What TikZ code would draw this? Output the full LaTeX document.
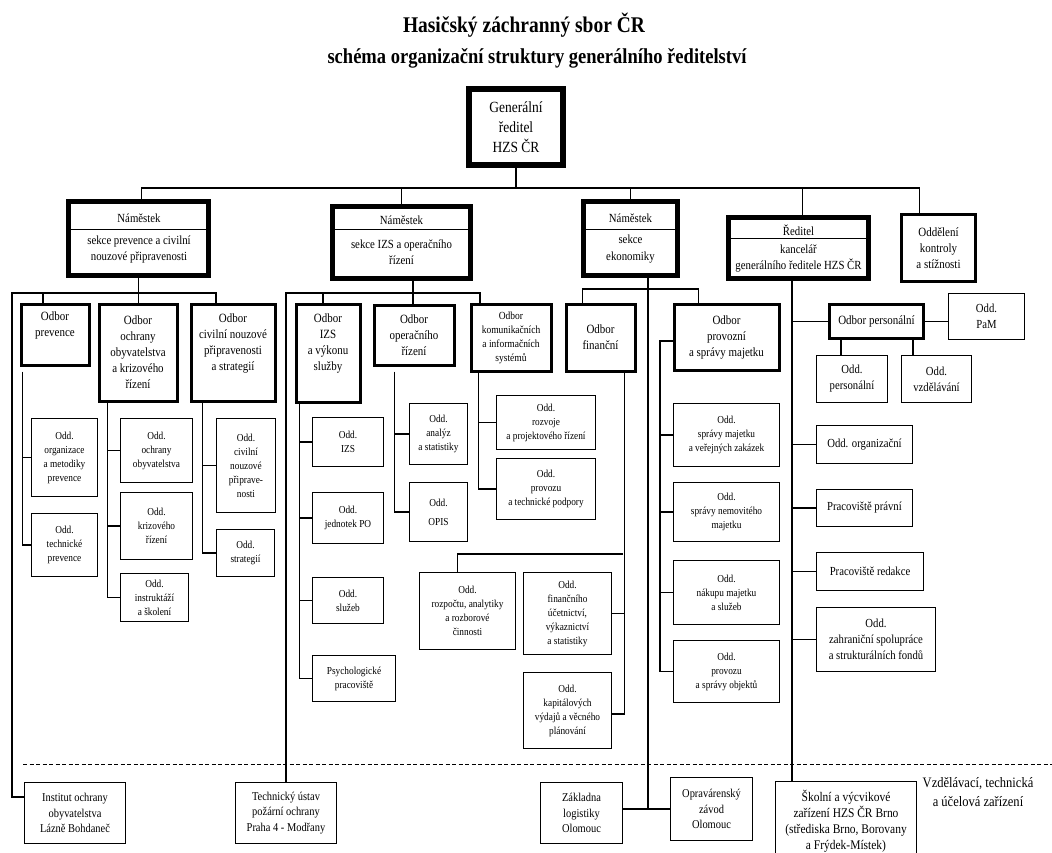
\documentclass[tikz,border=0pt]{standalone}
\usepackage{fontspec}
\setmainfont{Liberation Serif}[FakeStretch=0.87]

\begin{document}
\begin{tikzpicture}[x=1pt,y=-1pt,
  orgbox/.style={draw, fill=white, line width=1.3pt, align=center, inner sep=1pt},
  genbox/.style={orgbox, line width=6.5pt, font=\fontsize{15.5}{20}\selectfont},
  nambox/.style={orgbox, line width=5pt},
  namtext/.style={align=center, inner sep=0pt, font=\fontsize{12.4}{16.5}\selectfont},
  odbbox/.style={orgbox, line width=3pt, font=\fontsize{12.6}{16}\selectfont},
  oddbox/.style={orgbox, font=\fontsize{10.7}{14}\selectfont},
  oddrbox/.style={orgbox, font=\fontsize{12.3}{16}\selectfont},
  zarbox/.style={orgbox, font=\fontsize{12}{15.5}\selectfont},
  conn/.style={line width=1.2pt}]
\useasboundingbox (0,0) rectangle (1052,853);

% titles
\node[font=\bfseries\fontsize{22.4}{24}\selectfont] (title) at (524,25) {Hasičský záchranný sbor ČR};
\node[font=\bfseries\fontsize{21.3}{24}\selectfont] (subtitle) at (537,58) {schéma organizační struktury generálního ředitelství};

% top level
\node[genbox, minimum width=94, minimum height=76] (gr) at (516,127) {Generální\\ředitel\\HZS ČR};

\node[nambox, minimum width=140, minimum height=74] (npr) at (138.5,238.5) {};
\draw[line width=0.8pt] ([yshift=-30.5pt]npr.north west) -- ([yshift=-30.5pt]npr.north east);
\node[namtext] (npr-a) at (139,218) {Náměstek};
\node[namtext] (npr-b) at (139,249.5) {sekce prevence a civilní\\nouzové připravenosti};

\node[nambox, minimum width=138, minimum height=72] (niz) at (401.5,242.5) {};
\draw[line width=0.8pt] ([yshift=-25.5pt]niz.north west) -- ([yshift=-25.5pt]niz.north east);
\node[namtext] (niz-a) at (401.5,220) {Náměstek};
\node[namtext] (niz-b) at (401.5,252) {sekce IZS a operačního\\řízení};

\node[nambox, minimum width=94, minimum height=74] (neko) at (630.5,238.5) {};
\draw[line width=0.8pt] ([yshift=-30.5pt]neko.north west) -- ([yshift=-30.5pt]neko.north east);
\node[namtext] (neko-a) at (630.5,218) {Náměstek};
\node[namtext] (neko-b) at (630.5,249) {sekce\\ekonomiky};

\node[nambox, minimum width=140, minimum height=61] (red) at (798.5,248) {};
\draw[line width=0.8pt] ([yshift=-23.5pt]red.north west) -- ([yshift=-23.5pt]red.north east);
\node[namtext] (red-a) at (798.5,230) {Ředitel};
\node[namtext] (red-b) at (798.5,258.5) {kancelář\\generálního ředitele HZS ČR};

\node[odbbox, minimum width=74, minimum height=67] (ktrl) at (938.5,248) {Oddělení\\kontroly\\a stížnosti};

% odbory
\node[odbbox, minimum width=68, minimum height=61] (odbprev) at (55,334.5) {Odbor\\prevence\\\strut};
\node[odbbox, minimum width=78, minimum height=97] (ochr) at (138,352.5) {Odbor\\ochrany\\obyvatelstva\\a krizového\\řízení};
\node[odbbox, minimum width=84, minimum height=97] (odbciv) at (233,352.5) {Odbor\\civilní nouzové\\připravenosti\\a strategií\\\strut};
\node[odbbox, minimum width=64, minimum height=98] (odbizs) at (328,353) {Odbor\\IZS\\a výkonu\\služby\\\strut};
\node[odbbox, minimum width=80, minimum height=60] (odbop) at (414,335) {Odbor\\operačního\\řízení};
\node[odbbox, minimum width=80, minimum height=67, font=\fontsize{10.9}{14}\selectfont] (odbkom) at (511,337.5) {Odbor\\komunikačních\\a informačních\\systémů};
\node[odbbox, minimum width=69, minimum height=67] (fin) at (600.5,337.5) {Odbor\\finanční};
\node[odbbox, minimum width=105, minimum height=66] (prov) at (726.5,337) {Odbor\\provozní\\a správy majetku};
\node[odbbox, minimum width=94, minimum height=34] (odbpers) at (876.5,321.5) {Odbor personální};

% oddeleni
\node[oddbox, minimum width=66, minimum height=78] (orgprev) at (64.5,457.5) {Odd.\\organizace\\a metodiky\\prevence};
\node[oddbox, minimum width=66, minimum height=63] (techprev) at (64.5,545) {Odd.\\technické\\prevence};
\node[oddbox, minimum width=72, minimum height=64] (ochrobyv) at (156.5,450.5) {Odd.\\ochrany\\obyvatelstva};
\node[oddbox, minimum width=72, minimum height=67] (kriz) at (156.5,526) {Odd.\\krizového\\řízení};
\node[oddbox, minimum width=68, minimum height=48] (instr) at (154.5,597.5) {Odd.\\instruktáží\\a školení};
\node[oddbox, minimum width=59, minimum height=94] (civnp) at (246,465.5) {Odd.\\civilní\\nouzové\\připrave-\\nosti};
\node[oddbox, minimum width=58, minimum height=47] (strat) at (245.5,553) {Odd.\\strategií};
\node[oddbox, minimum width=71, minimum height=49] (izs) at (348,442) {Odd.\\IZS};
\node[oddbox, minimum width=71, minimum height=51] (jedn) at (348,518) {Odd.\\jednotek PO};
\node[oddbox, minimum width=71, minimum height=46] (sluz) at (348,600.5) {Odd.\\služeb};
\node[oddbox, minimum width=83, minimum height=46] (psych) at (354,678.5) {Psychologické\\pracoviště};
\node[oddbox, minimum width=58, minimum height=61] (analyz) at (438.5,434) {Odd.\\analýz\\a statistiky};
\node[oddbox, minimum width=58, minimum height=59] (opis) at (438.5,512) {Odd.\\[5pt]OPIS};
\node[oddbox, minimum width=99, minimum height=54] (rozvoje) at (546,422.5) {Odd.\\rozvoje\\a projektového řízení};
\node[oddbox, minimum width=99, minimum height=61] (provtech) at (546,489) {Odd.\\provozu\\a technické podpory};
\node[oddbox, minimum width=96, minimum height=77] (rozp) at (467.5,611) {Odd.\\rozpočtu, analytiky\\a rozborové\\činnosti};
\node[oddbox, minimum width=88, minimum height=82] (finucet) at (567.5,613.5) {Odd.\\finančního\\účetnictví,\\výkaznictví\\a statistiky};
\node[oddbox, minimum width=88, minimum height=76] (kapit) at (567.5,710.5) {Odd.\\kapitálových\\výdajů a věcného\\plánování};
\node[oddbox, minimum width=106, minimum height=63] (sprmaj) at (726.5,435) {Odd.\\správy majetku\\a veřejných zakázek};
\node[oddbox, minimum width=106, minimum height=59] (nemov) at (726.5,512) {Odd.\\správy nemovitého\\majetku};
\node[oddbox, minimum width=106, minimum height=64] (nakup) at (726.5,592.5) {Odd.\\nákupu majetku\\a služeb};
\node[oddbox, minimum width=106, minimum height=62] (objekt) at (726.5,671.5) {Odd.\\provozu\\a správy objektů};

\node[oddrbox, minimum width=76, minimum height=46] (pam) at (986.5,316.5) {Odd.\\PaM};
\node[oddrbox, minimum width=71, minimum height=47] (personalni) at (852,379) {Odd.\\personální};
\node[oddrbox, minimum width=70, minimum height=47] (vzdel) at (936.5,379) {Odd.\\vzdělávání};
\node[oddrbox, minimum width=96, minimum height=38] (organiz) at (864.5,444.5) {Odd. organizační};
\node[oddrbox, minimum width=96, minimum height=37] (pravni) at (864.5,508) {Pracoviště právní};
\node[oddrbox, minimum width=107, minimum height=38] (redakce) at (870,571.5) {Pracoviště redakce};
\node[oddrbox, minimum width=119, minimum height=64] (zahran) at (876,639.5) {Odd.\\zahraniční spolupráce\\a strukturálních fondů};

% zarizeni
\node[zarbox, minimum width=101, minimum height=61] (institut) at (75,813) {Institut ochrany\\obyvatelstva\\Lázně Bohdaneč};
\node[zarbox, minimum width=101, minimum height=61] (technicky) at (286,813) {Technický ústav\\požární ochrany\\Praha 4 - Modřany};
\node[zarbox, minimum width=82, minimum height=61] (zakl) at (581.5,813) {Základna\\logistiky\\Olomouc};
\node[zarbox, minimum width=82, minimum height=63] (opr) at (711.5,809) {Opravárenský\\závod\\Olomouc};
\node[zarbox, minimum width=141, minimum height=79, font=\fontsize{13.2}{16}\selectfont] (skolni) at (846,821) {Školní a výcvikové\\zařízení HZS ČR Brno\\(střediska Brno, Borovany\\a Frýdek-Místek)};
\node[align=center, font=\fontsize{14.4}{19}\selectfont] (zarlabel) at (978,792.5) {Vzdělávací, technická\\a účelová zařízení};

\coordinate (dashL) at (23,764);
\coordinate (dashR) at (1052,764);
\draw[line width=1pt, dash pattern=on 4pt off 2.5pt] (dashL) -- (dashR);

% connectors top
\coordinate (topbus) at (516,188);
\draw[conn] (gr.south) -- (topbus);
\draw[conn] ([xshift=3pt]npr.north) |- (topbus) -| ([xshift=-19pt]ktrl.north);
\draw[conn] (niz.north) -- (niz.north |- topbus);
\draw[conn] (neko.north) -- (neko.north |- topbus);
\draw[conn] ([xshift=4pt]red.north) -- ([xshift=4pt]red.north |- topbus);

% prevence
\coordinate (prevL) at (12,293);
\draw[conn] (npr.south) -- (npr.south |- ochr.north);
\draw[conn] ([yshift=16pt]institut.west) -| (prevL) -| ([xshift=-17pt]odbciv.north);
\draw[conn] ([xshift=-12pt]odbprev.north) -- ([xshift=-12pt]odbprev.north |- prevL);
\coordinate (prevV) at ([xshift=3pt,yshift=-5pt]odbprev.south west);
\draw[conn] (prevV) |- (techprev.west);
\draw[conn] (prevV |- orgprev.west) -- (orgprev.west);
\coordinate (ochrV) at ([xshift=10pt]ochr.south west);
\draw[conn] (ochrV) |- (instr.west);
\foreach \n in {ochrobyv,kriz}
\draw[conn] (ochrV |- \n.west) -- (\n.west);
\coordinate (civV) at ([xshift=13pt]odbciv.south west);
\draw[conn] (civV) |- (strat.west);
\draw[conn] (civV |- civnp.west) -- (civnp.west);

% IZS
\coordinate (izsbus) at (413,293);
\draw[conn] ([xshift=11.5pt]niz.south) -- ([xshift=11.5pt]niz.south |- odbop.north);
\draw[conn] (technicky.north) |- (izsbus) -| ([xshift=-31pt]odbkom.north);
\draw[conn] ([xshift=-5pt]odbizs.north) -- ([xshift=-5pt]odbizs.north |- izsbus);
\coordinate (izsV) at ([xshift=5pt]odbizs.south west);
\draw[conn] (izsV) |- (psych.west);
\foreach \n in {izs,jedn,sluz}
\draw[conn] (izsV |- \n.west) -- (\n.west);
\coordinate (opV) at ([xshift=22pt,yshift=-5pt]odbop.south west);
\draw[conn] (opV) |- (opis.west);
\draw[conn] (opV |- analyz.west) -- (analyz.west);
\coordinate (komV) at ([xshift=9pt]odbkom.south west);
\draw[conn] (komV) |- (provtech.west);
\draw[conn] (komV |- rozvoje.west) -- (rozvoje.west);

% ekonomika
\coordinate (ekobus) at (648,289);
\draw[conn] ([xshift=-18pt]fin.north) |- (ekobus) -| ([xshift=-28pt]prov.north);
\draw[conn] ([xshift=17.5pt]neko.south) -- ([xshift=17.5pt]neko.south |- opr.west);
\draw[conn] (zakl.east |- opr.west) -- (opr.west);
\coordinate (finV) at ([xshift=-12pt]fin.south east);
\coordinate (rozpJ) at (623,554);
\draw[conn] (finV) |- ([yshift=-3.5pt]kapit.east);
\draw[conn] (finucet.east) -- (finucet.east -| finV);
\draw[conn] ([xshift=-10pt]rozp.north) |- (rozpJ);
\coordinate (provV) at (660,341);
\draw[conn] (prov.west |- provV) -- (provV) |- (objekt.west);
\foreach \n in {sprmaj,nemov,nakup}
\draw[conn] (provV |- \n.west) -- (\n.west);

% reditel
\coordinate (redV) at ([xshift=-6.5pt]red.south);
\draw[conn] (redV) -- (redV |- skolni.north);
\foreach \n in {odbpers,organiz,pravni,redakce,zahran}
\draw[conn] (redV |- \n.west) -- (\n.west);
\draw[conn] (odbpers.east) -- (odbpers.east -| pam.west);
\draw[conn] ([xshift=-11pt]personalni.north) -- ([xshift=-11pt]personalni.north |- odbpers.south);
\draw[conn] ([xshift=-23.5pt]vzdel.north) -- ([xshift=-23.5pt]vzdel.north |- odbpers.south);
\end{tikzpicture}
\end{document}
